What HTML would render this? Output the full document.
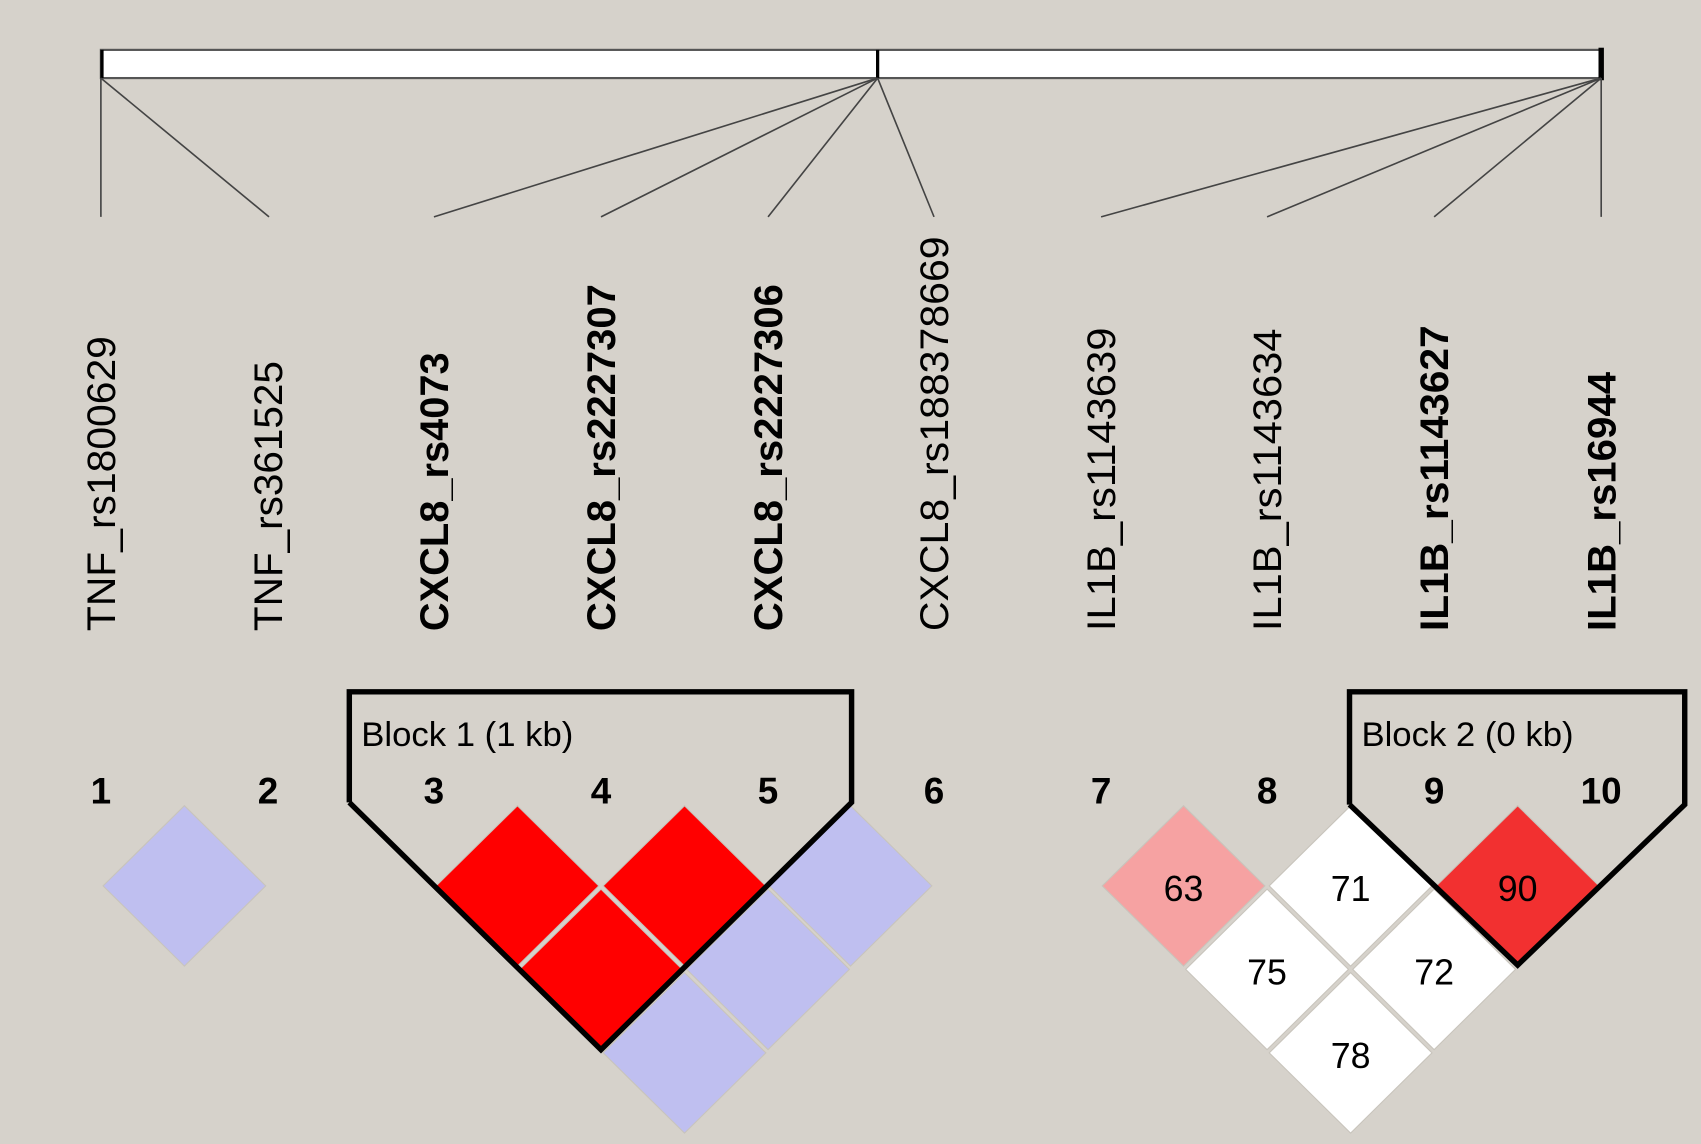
<!DOCTYPE html>
<html><head><meta charset="utf-8"><style>html,body{margin:0;padding:0;background:#d6d2cb}svg{display:block}</style></head><body>
<svg width="1701" height="1144" viewBox="0 0 1568 1055" preserveAspectRatio="none" xmlns="http://www.w3.org/2000/svg" font-family="Liberation Sans, sans-serif">
<rect width="1568" height="1055" fill="#d6d2cb"/>
<rect x="93" y="46" width="1383" height="26" fill="#fff" stroke="#555" stroke-width="2"/>
<line x1="94" y1="46" x2="94" y2="72" stroke="#000" stroke-width="3"/>
<line x1="809" y1="46" x2="809" y2="72" stroke="#000" stroke-width="3"/>
<line x1="1476" y1="44" x2="1476" y2="74" stroke="#000" stroke-width="5"/>
<g stroke="#444" stroke-width="1.5">
<line x1="93" y1="72" x2="93" y2="200"/>
<line x1="93" y1="72" x2="248" y2="200"/>
<line x1="809" y1="72" x2="400" y2="200"/>
<line x1="809" y1="72" x2="554" y2="200"/>
<line x1="809" y1="72" x2="708" y2="200"/>
<line x1="809" y1="72" x2="861" y2="200"/>
<line x1="1476" y1="72" x2="1015" y2="200"/>
<line x1="1476" y1="72" x2="1168" y2="200"/>
<line x1="1476" y1="72" x2="1322" y2="200"/>
<line x1="1476" y1="72" x2="1476" y2="200"/>
</g>
<g font-size="37" fill="#000">
<text transform="translate(106,582) rotate(-90)" textLength="272" lengthAdjust="spacingAndGlyphs">TNF_rs1800629</text>
<text transform="translate(260,582) rotate(-90)" textLength="249" lengthAdjust="spacingAndGlyphs">TNF_rs361525</text>
<text transform="translate(413,582) rotate(-90)" font-weight="bold" textLength="257" lengthAdjust="spacingAndGlyphs">CXCL8_rs4073</text>
<text transform="translate(567,582) rotate(-90)" font-weight="bold" textLength="320" lengthAdjust="spacingAndGlyphs">CXCL8_rs2227307</text>
<text transform="translate(721,582) rotate(-90)" font-weight="bold" textLength="320" lengthAdjust="spacingAndGlyphs">CXCL8_rs2227306</text>
<text transform="translate(874,582) rotate(-90)" textLength="364" lengthAdjust="spacingAndGlyphs">CXCL8_rs188378669</text>
<text transform="translate(1028,582) rotate(-90)" textLength="280" lengthAdjust="spacingAndGlyphs">IL1B_rs1143639</text>
<text transform="translate(1181,582) rotate(-90)" textLength="279" lengthAdjust="spacingAndGlyphs">IL1B_rs1143634</text>
<text transform="translate(1335,582) rotate(-90)" font-weight="bold" textLength="282" lengthAdjust="spacingAndGlyphs">IL1B_rs1143627</text>
<text transform="translate(1489,582) rotate(-90)" font-weight="bold" textLength="239" lengthAdjust="spacingAndGlyphs">IL1B_rs16944</text>
</g>
<g font-size="34" font-weight="bold" text-anchor="middle">
<text x="93" y="741">1</text><text x="247" y="741">2</text><text x="400" y="741">3</text><text x="554" y="741">4</text><text x="708" y="741">5</text><text x="861" y="741">6</text><text x="1015" y="741">7</text><text x="1168" y="741">8</text><text x="1322" y="741">9</text><text x="1476" y="741">10</text>
</g>
<g stroke="#c8c4bc" stroke-width="1">
<polygon points="170,743 245,817 170,891 95,817" fill="#bfbff0"/>
<polygon points="477,743 552,817 477,891 402,817" fill="#ff0000"/>
<polygon points="631,743 706,817 631,891 556,817" fill="#ff0000"/>
<polygon points="784,743 859,817 784,891 709,817" fill="#bfbff0"/>
<polygon points="554,820 629,894 554,968 479,894" fill="#ff0000"/>
<polygon points="708,820 783,894 708,968 633,894" fill="#bfbff0"/>
<polygon points="631,897 706,971 631,1045 556,971" fill="#bfbff0"/>
<polygon points="1091,743 1166,817 1091,891 1016,817" fill="#f6a2a2"/>
<polygon points="1245,743 1320,817 1245,891 1170,817" fill="#fff"/>
<polygon points="1399,743 1474,817 1399,891 1324,817" fill="#f23030"/>
<polygon points="1168,820 1243,894 1168,968 1093,894" fill="#fff"/>
<polygon points="1322,820 1397,894 1322,968 1247,894" fill="#fff"/>
<polygon points="1245,897 1320,971 1245,1045 1170,971" fill="#fff"/>
</g>
<g font-size="33" text-anchor="middle">
<text x="1091" y="831">63</text><text x="1245" y="831">71</text><text x="1399" y="831">90</text>
<text x="1168" y="908">75</text><text x="1322" y="908">72</text><text x="1245" y="985">78</text>
</g>
<g fill="none" stroke="#000" stroke-width="5" stroke-linejoin="miter">
<polyline points="322,740 322,638 785,638 785,740 554,968 322,740"/>
<polyline points="1244,742 1244,638 1553,638 1553,742 1399,890 1244,742"/>
</g>
<g font-size="32">
<text x="333" y="688">Block 1 (1 kb)</text>
<text x="1255" y="688">Block 2 (0 kb)</text>
</g>
</svg>
</body></html>
